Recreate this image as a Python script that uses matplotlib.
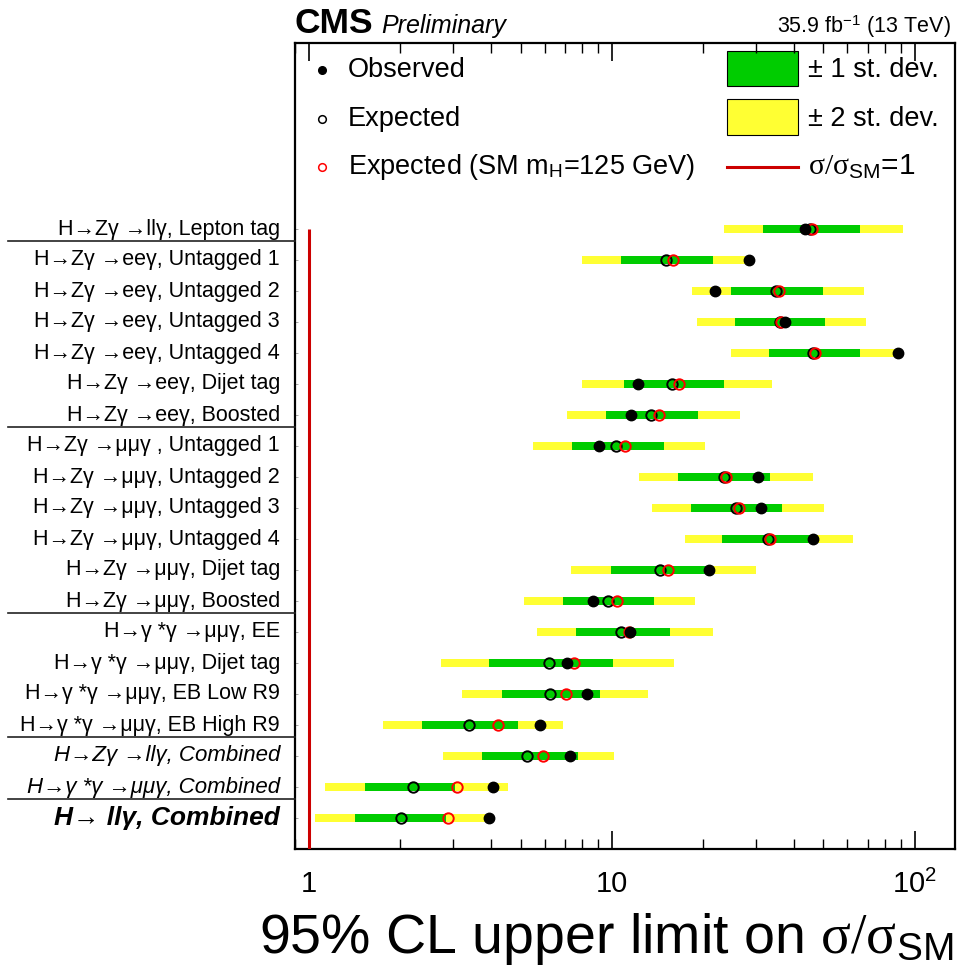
import numpy as np
import matplotlib
matplotlib.use("Agg")
import matplotlib.pyplot as plt
from matplotlib.lines import Line2D
from matplotlib.patches import Rectangle
import matplotlib.transforms as mtransforms

plt.rcParams['font.family'] = ['Liberation Sans', 'DejaVu Sans']
plt.rcParams['mathtext.fontset'] = 'custom'
plt.rcParams['mathtext.rm'] = 'Liberation Serif'
plt.rcParams['mathtext.it'] = 'Liberation Serif:italic'
plt.rcParams['mathtext.sf'] = 'Liberation Sans'

# Categories, listed from top to bottom
categories = [
    "H→Zγ →llγ, Lepton tag",
    "H→Zγ →eeγ, Untagged 1",
    "H→Zγ →eeγ, Untagged 2",
    "H→Zγ →eeγ, Untagged 3",
    "H→Zγ →eeγ, Untagged 4",
    "H→Zγ →eeγ, Dijet tag",
    "H→Zγ →eeγ, Boosted",
    "H→Zγ →μμγ , Untagged 1",
    "H→Zγ →μμγ, Untagged 2",
    "H→Zγ →μμγ, Untagged 3",
    "H→Zγ →μμγ, Untagged 4",
    "H→Zγ →μμγ, Dijet tag",
    "H→Zγ →μμγ, Boosted",
    "H→γ *γ →μμγ, EE",
    "H→γ *γ →μμγ, Dijet tag",
    "H→γ *γ →μμγ, EB Low R9",
    "H→γ *γ →μμγ, EB High R9",
    "H→Zγ →llγ, Combined",
    "H→γ *γ →μμγ, Combined",
    "H→ llγ, Combined",
]
label_styles = ["normal"] * 17 + ["italic", "italic", "bolditalic"]

observed = [43.6, 28.4, 21.9, 37.3, 88.2, 12.2, 11.6, 9.09, 30.5, 31.1,
            46.2, 20.9, 8.65, 11.5, 7.11, 8.31, 5.79, 7.30, 4.04, 3.92]
expected = [45.2, 15.1, 35.0, 36.0, 46.2, 15.8, 13.5, 10.35, 23.4, 25.8,
            32.8, 14.4, 9.69, 10.7, 6.19, 6.26, 3.37, 5.25, 2.21, 2.02]
expected_sm = [45.8, 15.9, 35.6, 36.3, 46.9, 16.7, 14.3, 11.1, 23.9, 26.3,
               33.2, 15.3, 10.4, 11.4, 7.50, 7.06, 4.20, 5.94, 3.08, 2.87]
minus2 = [23.5, 8.0, 18.4, 19.1, 24.7, 8.0, 7.13, 5.50, 12.3, 13.6,
          17.4, 7.35, 5.13, 5.65, 2.73, 3.21, 1.76, 2.77, 1.13, 1.05]
minus1 = [31.7, 10.7, 24.7, 25.5, 33.1, 11.0, 9.55, 7.40, 16.5, 18.3,
          23.2, 9.97, 6.88, 7.60, 3.94, 4.35, 2.37, 3.74, 1.53, 1.42]
plus1 = [65.8, 21.6, 49.7, 50.8, 65.8, 23.5, 19.3, 14.9, 33.4, 36.6,
         47.1, 20.5, 13.8, 15.6, 10.08, 9.18, 4.90, 7.73, 3.03, 2.83]
plus2 = [91.4, 27.6, 68.2, 69.2, 86.9, 33.7, 26.5, 20.3, 46.2, 50.1,
         62.8, 30.0, 18.8, 21.6, 16.1, 13.2, 6.88, 10.15, 4.54, 4.01]

group_separators = [18.6, 12.6, 6.6, 2.6, 0.6]
xtick_values = [1, 10, 100]
xtick_labels = ["1", "10", r"$\mathsf{10^{2}}$"]

YELLOW = "#ffff33"
GREEN = "#00cc00"
RED = "#ff0000"
SMRED = "#cc0000"

W, H = 959, 974
fig = plt.figure(figsize=(W / 100, H / 100), dpi=100)
ax = fig.add_axes([295 / W, 1 - 849 / H, (955 - 295) / W, (849 - 43) / H])

n = len(categories)
ypos = np.arange(n)[::-1]

lo2 = np.array(minus2); hi2 = np.array(plus2)
lo1 = np.array(minus1); hi1 = np.array(plus1)
bh = 0.24
ax.barh(ypos, hi2 - lo2, left=lo2, height=bh, color=YELLOW, linewidth=0, zorder=2)
ax.barh(ypos, hi1 - lo1, left=lo1, height=bh, color=GREEN, linewidth=0, zorder=3)

# SM reference line at sigma/sigma_SM = 1
ax.plot([1, 1], [-1, ypos.max()], color=SMRED, lw=2.2, zorder=4,
        solid_capstyle='butt')

ax.plot(expected, ypos, 'o', ms=7.5, mfc='none', mec='black', mew=1.4, zorder=5)
ax.plot(expected_sm, ypos, 'o', ms=7.5, mfc='none', mec=RED, mew=1.4, zorder=6)
ax.plot(observed, ypos, 'o', ms=7.5, mfc='black', mec='black', zorder=7)

ax.set_xscale('log')
ax.set_xlim(0.9, 136)
ax.set_ylim(-1, 25)

ax.set_xticks(xtick_values)
ax.set_xticklabels(xtick_labels)
ax.tick_params(axis='x', which='major', direction='in', length=13, width=1.2,
               top=True, bottom=True, labelsize=21, pad=15)
ax.tick_params(axis='x', which='minor', direction='in', length=7, width=1.0,
               top=True, bottom=True)
ax.xaxis.set_minor_formatter(matplotlib.ticker.NullFormatter())
ax.set_yticks(ypos)
ax.set_yticklabels([])
ax.tick_params(axis='y', which='both', direction='in', length=2.5, width=0.6,
               color='#999999', left=True, right=False)
ax.yaxis.set_minor_locator(matplotlib.ticker.NullLocator())
for s in ax.spines.values():
    s.set_linewidth(1.6)

# Category labels left of the frame
lab_tr = mtransforms.blended_transform_factory(fig.transFigure, ax.transData)
for y, text, style in zip(ypos, categories, label_styles):
    kw = dict(fontsize=15.5, ha='right', va='center', transform=lab_tr)
    if style == "italic":
        kw['style'] = 'italic'
        kw['fontsize'] = 16
    elif style == "bolditalic":
        kw['style'] = 'italic'
        kw['weight'] = 'bold'
        kw['fontsize'] = 19
    fig.text(280 / W, y, text, **kw)

for ys in group_separators:
    fig.add_artist(Line2D([8 / W, 295 / W], [ys, ys], transform=lab_tr,
                          color='#222222', lw=1.2))

# Header
ax.text(0.0, 1.012, "CMS", transform=ax.transAxes, fontsize=25.5,
        weight='bold', ha='left', va='baseline')
ax.text(0.1303, 1.012, "Preliminary", transform=ax.transAxes, fontsize=18,
        style='italic', ha='left', va='baseline')
ax.text(0.994, 1.012, r"35.9 fb$^{\mathsf{-1}}$ (13 TeV)", transform=ax.transAxes,
        fontsize=15.5, ha='right', va='baseline')

# Axis title
ax.text(0.997, -0.129,
        r"95% CL upper limit on $\mathrm{\sigma}/\mathrm{\sigma}_{\mathsf{SM}}$",
        transform=ax.transAxes, fontsize=40, ha='right', va='baseline')

# Legend
leg_fs = 19.5
rows_y = [0.9665, 0.9057, 0.846]
ax.plot([0.0403], [rows_y[0]], 'o', ms=5.5, mfc='black', mec='black',
        transform=ax.transAxes, clip_on=False)
ax.plot([0.0403], [rows_y[1]], 'o', ms=5.5, mfc='none', mec='black', mew=1.1,
        transform=ax.transAxes, clip_on=False)
ax.plot([0.0403], [rows_y[2]], 'o', ms=5.5, mfc='none', mec=RED, mew=1.1,
        transform=ax.transAxes, clip_on=False)
ax.text(0.0803, rows_y[0], "Observed", transform=ax.transAxes, fontsize=leg_fs,
        va='center', ha='left')
ax.text(0.0803, rows_y[1], "Expected", transform=ax.transAxes, fontsize=leg_fs,
        va='center', ha='left')
ax.text(0.0803, rows_y[2], r"Expected (SM m$_{\mathsf{H}}$=125 GeV)",
        transform=ax.transAxes, fontsize=leg_fs, va='center', ha='left')

bx0, bx1 = 0.6545, 0.7621
ax.add_patch(Rectangle((bx0, 0.9467), bx1 - bx0, 0.990 - 0.9467,
                       transform=ax.transAxes, facecolor=GREEN,
                       edgecolor='black', lw=0.8))
ax.add_patch(Rectangle((bx0, 0.8859), bx1 - bx0, 0.9305 - 0.8859,
                       transform=ax.transAxes, facecolor=YELLOW,
                       edgecolor='black', lw=0.8))
ax.plot([bx0, bx1], [rows_y[2], rows_y[2]], color=SMRED, lw=2.2,
        transform=ax.transAxes)
ax.text(0.7773, rows_y[0], "± 1 st. dev.", transform=ax.transAxes,
        fontsize=leg_fs, va='center', ha='left')
ax.text(0.7773, rows_y[1], "± 2 st. dev.", transform=ax.transAxes,
        fontsize=leg_fs, va='center', ha='left')
ax.text(0.7773, rows_y[2], r"$\mathrm{\sigma}/\mathrm{\sigma}_{\mathsf{SM}}$=1",
        transform=ax.transAxes, fontsize=21.5, va='center', ha='left')

fig.savefig("out.png", dpi=100)
